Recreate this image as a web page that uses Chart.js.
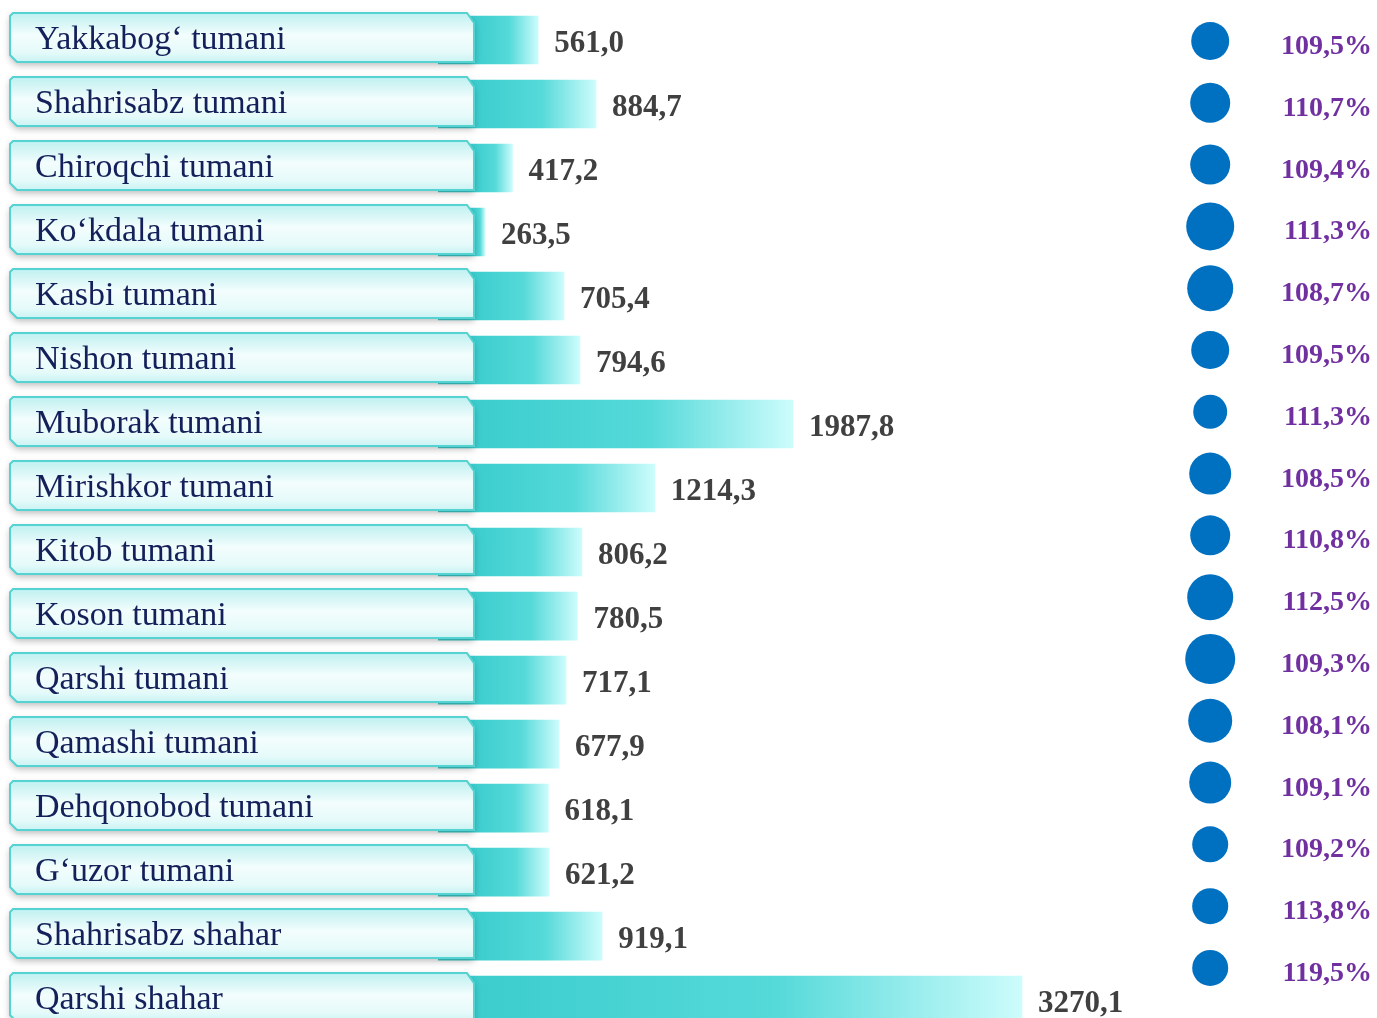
<!DOCTYPE html>
<html lang="en">
<head>
<meta charset="UTF-8">
<title>Tumanlar</title>
<script src="https://cdn.jsdelivr.net/npm/chart.js"></script>
<style>
    html, body { margin: 0; padding: 0; background: #ffffff; overflow: hidden; }
    #chart { display: block; }
</style>
</head>
<body>
<canvas id="chart" width="1377" height="1018"></canvas>
<script>
const regions = ['Yakkabog‘ tumani', 'Shahrisabz tumani', 'Chiroqchi tumani', 'Ko‘kdala tumani',
    'Kasbi tumani', 'Nishon tumani', 'Muborak tumani', 'Mirishkor tumani', 'Kitob tumani',
    'Koson tumani', 'Qarshi tumani', 'Qamashi tumani', 'Dehqonobod tumani', 'G‘uzor tumani',
    'Shahrisabz shahar', 'Qarshi shahar'];
const volumes = [561.0, 884.7, 417.2, 263.5, 705.4, 794.6, 1987.8, 1214.3, 806.2, 780.5,
    717.1, 677.9, 618.1, 621.2, 919.1, 3270.1];
const growth = [109.5, 110.7, 109.4, 111.3, 108.7, 109.5, 111.3, 108.5, 110.8, 112.5,
    109.3, 108.1, 109.1, 109.2, 113.8, 119.5];

// dot sizes as drawn in the original (decorative)
const dotSizes = [19, 20, 20, 24, 23, 19, 17, 21, 20, 23, 25, 22, 21, 18, 18, 18];

const SERIF = '"Liberation Serif", "Times New Roman", serif';
const fmt = v => v.toFixed(1).replace('.', ',');

function boxPath(ctx, l, t, r, b) {
    ctx.beginPath();
    ctx.moveTo(l + 3, t);
    ctx.lineTo(r - 7, t);
    ctx.lineTo(r, t + 10);
    ctx.lineTo(r, b);
    ctx.lineTo(l + 7, b);
    ctx.lineTo(l, b - 7);
    ctx.lineTo(l, t + 3);
    ctx.closePath();
}

const labelBoxes = {
    id: 'labelBoxes',
    afterDatasetsDraw(chart) {
        const ctx = chart.ctx;
        const bars = chart.getDatasetMeta(0).data;
        bars.forEach((bar, i) => {
            const l = 10, r = 474, t = bar.y - 27, b = bar.y + 22;
            ctx.save();
            ctx.shadowColor = 'rgba(0,0,0,0.28)';
            ctx.shadowBlur = 7;
            ctx.shadowOffsetY = 3;
            boxPath(ctx, l, t, r, b);
            const g = ctx.createLinearGradient(0, t, 0, b);
            g.addColorStop(0, '#bff0f0');
            g.addColorStop(0.45, '#f3fdfd');
            g.addColorStop(0.8, '#e6fafa');
            g.addColorStop(1, '#c9f3f3');
            ctx.fillStyle = g;
            ctx.fill();
            ctx.restore();
            ctx.save();
            boxPath(ctx, l, t, r, b);
            ctx.strokeStyle = '#55d2d2';
            ctx.lineWidth = 2;
            ctx.stroke();
            ctx.font = '34px ' + SERIF;
            ctx.fillStyle = '#13205a';
            ctx.textBaseline = 'alphabetic';
            ctx.fillText(regions[i], 35, bar.y + 9);
            ctx.restore();

            // value label
            ctx.save();
            ctx.font = 'bold 31px ' + SERIF;
            ctx.fillStyle = '#404040';
            ctx.fillText(fmt(volumes[i]), bar.x + 16, bar.y + 12);
            ctx.restore();
        });

        // growth labels
        const dots = chart.getDatasetMeta(1).data;
        dots.forEach((pt, i) => {
            ctx.save();
            ctx.font = 'bold 28px ' + SERIF;
            ctx.fillStyle = '#7030a0';
            ctx.textAlign = 'right';
            ctx.fillText(fmt(growth[i]) + '%', chart.chartArea.right - 5, pt.y + 13);
            ctx.restore();
        });
    }
};

function barFill(c) {
    const chart = c.chart;
    const xs = chart.scales.x;
    if (c.type !== 'data' || !xs || !chart.chartArea) return '#45d3d3';
    const x0 = xs.getPixelForValue(0) + 36;
    const x1 = xs.getPixelForValue(volumes[c.dataIndex]);
    if (!isFinite(x0) || !isFinite(x1)) return '#45d3d3';
    const g = chart.ctx.createLinearGradient(Math.min(x0, x1 - 10), 0, x1, 0);
    g.addColorStop(0, '#3ccdcd');
    g.addColorStop(0.55, '#55d9d9');
    g.addColorStop(1, '#cdfcfc');
    return g;
}

new Chart(document.getElementById('chart').getContext('2d'), {
    type: 'bar',
    data: {
        labels: regions,
        datasets: [{
            type: 'bar',
            data: volumes.map((v, i) => ({ x: v, y: i })),
            backgroundColor: barFill,
            borderWidth: 0,
            barThickness: 48,
            grouped: false,
            xAxisID: 'x',
            yAxisID: 'y'
        }, {
            type: 'scatter',
            data: growth.map((g, i) => ({ x: 0, y: i })),
            backgroundColor: '#0070c0',
            borderWidth: 0,
            pointRadius: dotSizes,
            pointHoverRadius: dotSizes,
            clip: false,
            xAxisID: 'xDot',
            yAxisID: 'yDot'
        }]
    },
    options: {
        indexAxis: 'y',
        responsive: false,
        animation: false,
        layout: { autoPadding: false, padding: { left: 438, right: 0, top: 8, bottom: 0 } },
        plugins: { legend: { display: false }, tooltip: { enabled: false } },
        scales: {
            x: { type: 'linear', min: 0, max: 5258, offset: false, display: false },
            // rows 64px apart; the last one runs past the bottom edge, as in the original
            y: { type: 'linear', min: -0.5, max: 15.28, reverse: true, offset: false, display: false },
            xDot: { type: 'linear', axis: 'x', min: -1, max: 0.216, offset: false, display: false },
            yDot: { type: 'linear', axis: 'y', min: -0.534, max: 15.81, reverse: true, offset: false, display: false }
        }
    },
    plugins: [labelBoxes]
});
</script>
</body>
</html>
